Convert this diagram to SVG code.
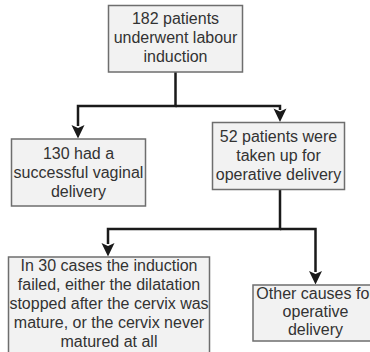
<svg xmlns="http://www.w3.org/2000/svg" width="370" height="352" viewBox="0 0 370 352">
<defs>
<style>
.box{fill:#f2f2f2;stroke:#6e6e6e;stroke-width:1.5}
.t{font-family:"Liberation Sans",Arial,sans-serif;font-size:16px;fill:#333;text-anchor:middle}
.ln{fill:none;stroke:#1a1a1a;stroke-width:2.5;stroke-linejoin:miter}
.ah{fill:#1a1a1a}
</style>
<marker id="arr" markerUnits="userSpaceOnUse" viewBox="-7 -14 14 15" refX="0" refY="0" markerWidth="14" markerHeight="15" orient="auto-start-reverse">
<path class="ah" d="M0,0 L-6.5,-13 L0,-10.5 L6.5,-13 Z" transform="rotate(-90)"/>
</marker>
</defs>
<rect width="370" height="352" fill="#ffffff"/>
<g id="connectors">
<path class="ln" d="M175.5,72 V106 H78 V126"/>
<path class="ah" d="M78,138.5 L71.5,125 L78,128 L84.5,125 Z"/>
<path class="ln" d="M175.5,106 H280 V110"/>
<path class="ah" d="M280,122 L273.5,108.5 L280,111.5 L286.5,108.5 Z"/>
<path class="ln" d="M280,190 V229 H108 V244"/>
<path class="ah" d="M108,256.5 L101.5,243 L108,246 L114.5,243 Z"/>
<path class="ln" d="M280,229 H315.5 V272"/>
<path class="ah" d="M315.5,284.5 L309,271 L315.5,274 L322,271 Z"/>
</g>
<g id="n1">
<rect class="box" x="108.5" y="5.5" width="134" height="66.5"/>
<text class="t" x="175.5" y="24">182 patients</text>
<text class="t" x="175.5" y="43">underwent labour</text>
<text class="t" x="175.5" y="62">induction</text>
</g>
<g id="n2">
<rect class="box" x="11.5" y="139" width="134" height="67"/>
<text class="t" x="78.5" y="159">130 had a</text>
<text class="t" x="78.5" y="178">successful vaginal</text>
<text class="t" x="78.5" y="197">delivery</text>
</g>
<g id="n3">
<rect class="box" x="212.5" y="122.5" width="132" height="67"/>
<text class="t" x="278.5" y="142">52 patients were</text>
<text class="t" x="278.5" y="161">taken up for</text>
<text class="t" x="278.5" y="180">operative delivery</text>
</g>
<g id="n4">
<rect class="box" x="8.5" y="257" width="201" height="100"/>
<text class="t" x="109" y="271">In 30 cases the induction</text>
<text class="t" x="109" y="290">failed, either the dilatation</text>
<text class="t" x="109" y="309">stopped after the cervix was</text>
<text class="t" x="109" y="328">mature, or the cervix never</text>
<text class="t" x="109" y="347">matured at all</text>
</g>
<g id="n5">
<rect class="box" x="253" y="285" width="126" height="56"/>
<text class="t" x="315.5" y="299">Other causes for</text>
<text class="t" x="315.5" y="317">operative</text>
<text class="t" x="315.5" y="335">delivery</text>
</g>
</svg>
